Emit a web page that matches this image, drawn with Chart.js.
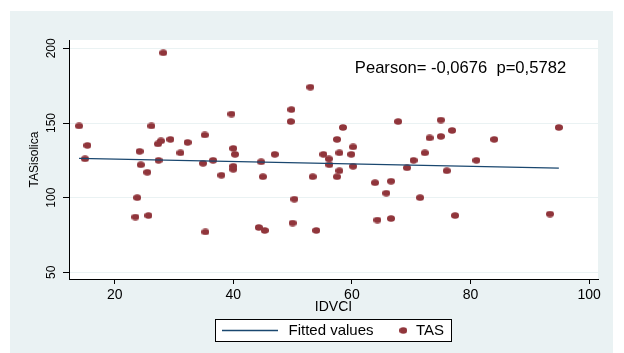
<!DOCTYPE html>
<html>
<head>
<meta charset="utf-8">
<script src="https://cdn.jsdelivr.net/npm/chart.js@4.4.0/dist/chart.umd.min.js"></script>
<style>
    html, body { margin: 0; padding: 0; background: #fff; }
</style>
</head>
<body>
<canvas id="tasChart" width="624" height="353"></canvas>
<script>
// IDVCI (x) / TAS sistolica (y)
const idvci = [14.0, 15.4, 15.0, 23.5, 23.8, 24.2, 24.4, 25.5, 25.7, 26.2,
               27.3, 27.8, 27.4, 28.2, 29.4, 31.1, 32.3, 34.9, 35.2, 35.3,
               36.6, 38.0, 39.7, 40.0, 40.3, 40.0, 40.0, 44.3, 44.7, 45.0,
               45.3, 47.0, 49.7, 49.8, 50.0, 50.3, 53.0, 53.4, 54.0, 55.2,
               56.1, 56.2, 57.5, 57.5, 57.9, 57.9, 58.5, 59.9, 60.2, 60.2,
               63.9, 64.3, 65.8, 66.6, 66.6, 67.8, 69.3, 70.4, 71.5, 72.3,
               73.1, 75.0, 75.0, 76.0, 76.9, 77.4, 81.0, 84.0, 93.4, 94.9];
const tas = [148, 135, 126, 87, 100, 131, 122, 117, 88, 148,
             136, 138, 125, 197, 139, 130, 137, 123, 142, 77,
             125, 115, 156, 133, 129, 121, 119, 80, 124, 114,
             78, 129, 151, 159, 83, 99, 174, 114, 78, 129,
             126, 122, 139, 114, 130, 118, 147, 129, 134, 121,
             110, 85, 103, 111, 86, 151, 120, 125, 100, 130,
             140, 141, 152, 118, 145, 88, 125, 139, 89, 147];

// reta ajustada (Fitted values)
const fitX = [14.0, 94.9];
const fitY = [126.3, 119.8];

const xTicks = [20, 40, 60, 80, 100];
const yTicks = [50, 100, 150, 200];
const pearsonText = 'Pearson= -0,0676  p=0,5782';

const maroon = '#90353B';
const navy = '#1A476F';
const bgColor = '#EAF2F3';
const fontFamily = "'Liberation Sans', Arial, Helvetica, sans-serif";

// marcador elíptico (o original está esticado na horizontal)
const dot = document.createElement('canvas');
dot.width = 8;
dot.height = 7;
(function () {
    const c = dot.getContext('2d');
    c.fillStyle = maroon;
    c.beginPath();
    c.ellipse(4, 3.5, 4, 3.2, 0, 0, Math.PI * 2);
    c.fill();
})();

const stataBackground = {
    id: 'stataBackground',
    beforeDraw(chart) {
        const ctx = chart.ctx;
        const a = chart.chartArea;
        ctx.save();
        ctx.fillStyle = '#fff';
        ctx.fillRect(0, 0, chart.width, chart.height);
        ctx.fillStyle = bgColor;
        ctx.fillRect(10, 11, 603, chart.height - 11);
        ctx.fillStyle = '#fff';
        ctx.fillRect(a.left, a.top, a.right - a.left, a.bottom - a.top);
        ctx.restore();
    },
    afterDraw(chart) {
        const ctx = chart.ctx;
        const xs = chart.scales.x;
        const ys = chart.scales.y;
        ctx.save();
        // texto Pearson
        ctx.fillStyle = '#000';
        ctx.font = '16.6px ' + fontFamily;
        ctx.textAlign = 'left';
        ctx.textBaseline = 'middle';
        ctx.fillText(pearsonText, xs.getPixelForValue(60.5), ys.getPixelForValue(186.6));

        // legenda com caixa
        const sets = chart.data.datasets;
        ctx.fillStyle = '#fff';
        ctx.fillRect(215.5, 319.5, 236, 22);
        ctx.strokeStyle = '#000';
        ctx.lineWidth = 1;
        ctx.strokeRect(215.5, 319.5, 236, 22);
        const cy = 330.5;
        ctx.strokeStyle = sets[0].borderColor;
        ctx.lineWidth = sets[0].borderWidth;
        ctx.beginPath();
        ctx.moveTo(222, cy);
        ctx.lineTo(278, cy);
        ctx.stroke();
        ctx.fillStyle = '#000';
        ctx.font = '15px ' + fontFamily;
        ctx.fillText(sets[0].label, 288.5, cy);
        ctx.drawImage(dot, 403.3 - dot.width / 2, cy - dot.height / 2);
        ctx.fillText(sets[1].label, 416, cy);
        ctx.restore();
    }
};

const canvas = document.getElementById('tasChart');
new Chart(canvas, {
    type: 'scatter',
    data: {
        datasets: [{
            label: 'Fitted values',
            type: 'line',
            data: fitX.map((x, i) => ({ x: x, y: fitY[i] })),
            borderColor: navy,
            borderWidth: 1.3,
            pointRadius: 0,
            fill: false,
            order: 0
        }, {
            label: 'TAS',
            data: idvci.map((x, i) => ({ x: x, y: tas[i] })),
            pointStyle: dot,
            pointRadius: 4,
            backgroundColor: maroon,
            borderColor: maroon,
            order: 1
        }]
    },
    options: {
        responsive: false,
        animation: false,
        layout: {
            padding: { left: 0, right: 26, top: 40, bottom: 0 }
        },
        plugins: {
            legend: { display: false },
            tooltip: { enabled: false }
        },
        scales: {
            x: {
                type: 'linear',
                min: 12.3,
                max: 101.5,
                afterBuildTicks: s => { s.ticks = xTicks.map(v => ({ value: v })); },
                afterFit: s => { s.height = 74; },
                grid: {
                    drawOnChartArea: false,
                    drawTicks: true,
                    tickLength: 5,
                    tickColor: '#000',
                    tickWidth: 1
                },
                border: { color: '#000', width: 1 },
                ticks: {
                    color: '#000',
                    font: { family: fontFamily, size: 14 },
                    padding: 3,
                    maxRotation: 0,
                    autoSkip: false
                },
                title: {
                    display: true,
                    text: 'IDVCI',
                    color: '#000',
                    font: { family: fontFamily, size: 14 },
                    padding: { top: 0, bottom: 37.5 }
                }
            },
            y: {
                type: 'linear',
                min: 45.5,
                max: 205.6,
                afterBuildTicks: s => { s.ticks = yTicks.map(v => ({ value: v })); },
                afterFit: s => { s.width = 69; },
                grid: {
                    color: bgColor,
                    lineWidth: 1,
                    drawTicks: true,
                    tickLength: 6,
                    tickColor: '#000',
                    tickWidth: 1
                },
                border: { color: '#000', width: 1 },
                ticks: {
                    color: '#000',
                    font: { family: fontFamily, size: 12 },
                    minRotation: 90,
                    maxRotation: 90,
                    crossAlign: 'center',
                    padding: 1,
                    autoSkip: false
                },
                title: {
                    display: true,
                    text: 'TASisolica',
                    color: '#000',
                    font: { family: fontFamily, size: 12 },
                    padding: { top: 27.8, bottom: 0 }
                }
            }
        }
    },
    plugins: [stataBackground]
});
</script>
</body>
</html>
